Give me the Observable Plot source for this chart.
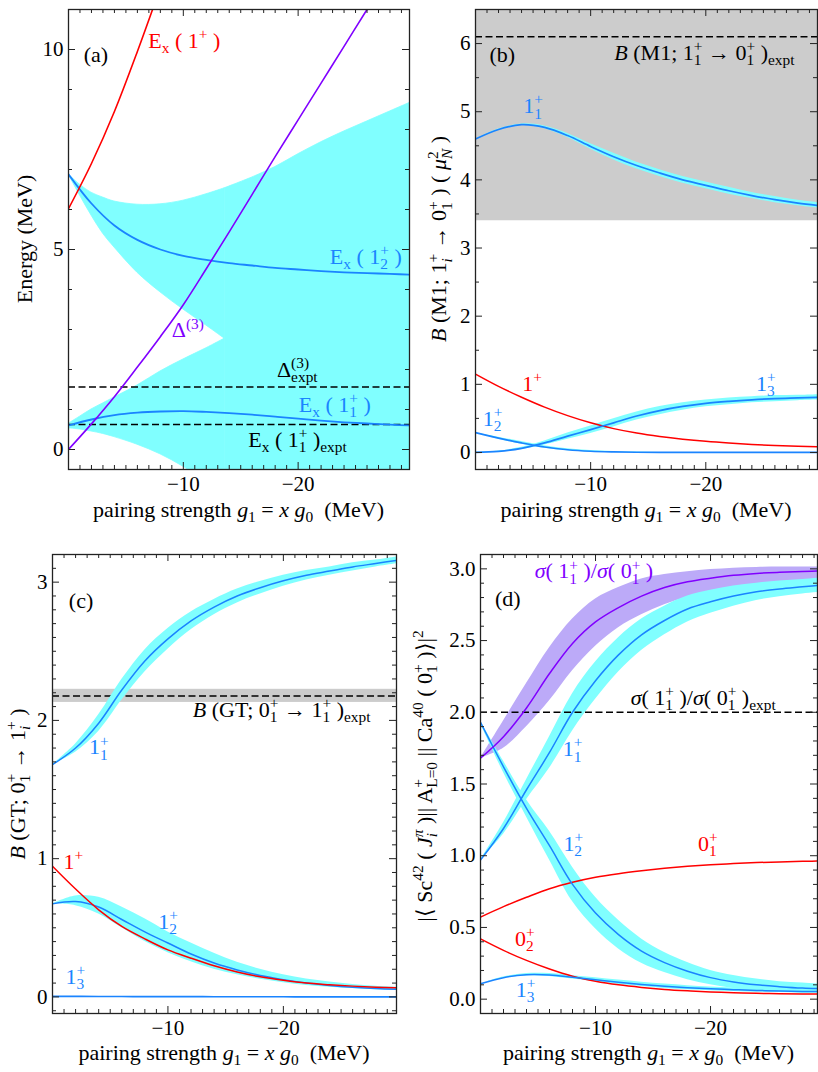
<!DOCTYPE html>
<html><head><meta charset="utf-8">
<script src="https://cdn.jsdelivr.net/npm/d3@7"></script>
<script src="https://cdn.jsdelivr.net/npm/@observablehq/plot@0.6"></script>
<style>
body{margin:0;background:#fff}
#wrap{position:relative;width:818px;height:1072px;overflow:hidden;background:#fff}
</style></head>
<body><div id="wrap"></div>
<script>
// ---------- data ----------
const G = [0,-2,-4,-6,-8,-10,-12,-14,-16,-18,-20,-22,-24,-26,-28,-30];
const xMajor = [-10, -20];

// panel (a)
const aRedG = [0,-2,-4,-6,-8];
const aRed = [6.02, 7.15, 8.45, 9.95, 11.55];
const aDelta = [0, 0.64, 1.32, 2.06, 2.82, 3.62, 4.52, 5.44, 6.38, 7.32, 8.24, 9.16, 10.08, 11.0, 11.92, 12.84];
const aEx2 = [6.88, 6.15, 5.6, 5.24, 5.0, 4.84, 4.74, 4.66, 4.6, 4.54, 4.5, 4.46, 4.43, 4.41, 4.39, 4.37];
const aEx1 = [0.6, 0.75, 0.86, 0.92, 0.95, 0.96, 0.94, 0.91, 0.87, 0.82, 0.77, 0.72, 0.68, 0.65, 0.62, 0.6];
const GA = [0,-1,-2,-3,-4,-6,-8,-10,-12,-13.6,-16,-18,-20,-22,-24,-26,-28,-30];
const aUpperA = [6.88, 6.62, 6.42, 6.3, 6.2, 6.12, 6.13, 6.22, 6.38, 6.53, 6.8, 7.06, 7.38, 7.68, 7.95, 8.2, 8.45, 8.7];
const aInnerA = [6.88, 6.35, 5.85, 5.4, 5.05, 4.42, 3.93, 3.5, 3.1, 2.77];
const aInnerB = [0.64, 0.82, 1.0, 1.15, 1.3, 1.6, 1.95, 2.25, 2.53, 2.77];
const aLowerB = [0.53, 0.5, 0.45, 0.39, 0.31, 0.12, -0.12, -0.43, -0.8];
const aDeltaExpt = 1.56, aEx1Expt = 0.625;
const aYTicks = [0, 5, 10];

// panel (b)
const b11 = [4.6, 4.74, 4.81, 4.77, 4.65, 4.49, 4.34, 4.21, 4.1, 4.0, 3.92, 3.84, 3.77, 3.71, 3.66, 3.62];
const b11hw = [0, 0.005, 0.01, 0.02, 0.03, 0.04, 0.05, 0.05, 0.05, 0.05, 0.05, 0.05, 0.045, 0.045, 0.04, 0.04];
const bRed = [1.15, 0.97, 0.81, 0.665, 0.54, 0.435, 0.35, 0.285, 0.235, 0.195, 0.163, 0.138, 0.118, 0.103, 0.091, 0.082];
const b12 = [0.29, 0.21, 0.14, 0.08, 0.04, 0.018, 0.008, 0.003, 0.001, 0, 0, 0, 0, 0, 0, 0];
const b12hw = [0, 0.015, 0.02, 0.02, 0.015, 0.01, 0.005, 0.002, 0, 0, 0, 0, 0, 0, 0, 0];
const b13 = [0, 0.015, 0.06, 0.14, 0.24, 0.335, 0.435, 0.535, 0.615, 0.675, 0.72, 0.75, 0.773, 0.79, 0.8, 0.81];
const b13hw = [0, 0.005, 0.015, 0.03, 0.045, 0.055, 0.06, 0.06, 0.06, 0.055, 0.05, 0.05, 0.045, 0.045, 0.04, 0.04];
const bExptBand = [3.4, 6.5], bExpt = 6.1;
const bYTicks = [0, 1, 2, 3, 4, 5, 6];

// panel (c)
const c11 = [1.68, 1.80, 1.98, 2.22, 2.43, 2.59, 2.72, 2.82, 2.9, 2.96, 3.01, 3.05, 3.08, 3.11, 3.135, 3.16];
const c11hw = [0, 0.03, 0.06, 0.075, 0.08, 0.075, 0.065, 0.055, 0.05, 0.045, 0.04, 0.035, 0.03, 0.03, 0.025, 0.025];
const cRed = [0.945, 0.78, 0.63, 0.51, 0.42, 0.34, 0.28, 0.225, 0.18, 0.145, 0.12, 0.1, 0.088, 0.078, 0.07, 0.065];
const c12 = [0.673, 0.69, 0.65, 0.56, 0.47, 0.39, 0.31, 0.245, 0.195, 0.155, 0.125, 0.1, 0.083, 0.07, 0.06, 0.054];
const c12Hi = [0.673, 0.73, 0.72, 0.65, 0.565, 0.47, 0.39, 0.315, 0.25, 0.2, 0.16, 0.13, 0.108, 0.09, 0.078, 0.07];
const c12Lo = [0.673, 0.66, 0.6, 0.5, 0.4, 0.32, 0.255, 0.2, 0.16, 0.128, 0.103, 0.083, 0.07, 0.06, 0.052, 0.046];
const c13 = [0.004, 0.004, 0.003, 0.003, 0.002, 0.002, 0.002, 0.001, 0.001, 0.001, 0.001, 0, 0, 0, 0, 0];
const cExptBand = [2.13, 2.225], cExpt = 2.176;
const cYTicks = [0, 1, 2, 3];

// panel (d)
const dSig = [1.68, 1.83, 2.03, 2.27, 2.48, 2.63, 2.73, 2.81, 2.87, 2.91, 2.935, 2.955, 2.968, 2.976, 2.982, 2.986];
const dSigHi = [1.68, 1.94, 2.2, 2.45, 2.65, 2.79, 2.87, 2.93, 2.96, 2.98, 2.995, 3.005, 3.01, 3.012, 3.013, 3.014];
const dSigLo = [1.68, 1.75, 1.9, 2.08, 2.29, 2.46, 2.59, 2.68, 2.75, 2.8, 2.84, 2.865, 2.88, 2.89, 2.9, 2.905];
const d11 = [0.97, 1.19, 1.46, 1.72, 2.0, 2.22, 2.4, 2.54, 2.64, 2.72, 2.77, 2.81, 2.84, 2.86, 2.875, 2.89];
const d11hw = [0, 0.04, 0.07, 0.11, 0.13, 0.13, 0.12, 0.11, 0.1, 0.09, 0.08, 0.07, 0.06, 0.055, 0.05, 0.05];
const d12 = [1.93, 1.62, 1.33, 1.07, 0.8, 0.6, 0.45, 0.335, 0.255, 0.195, 0.15, 0.12, 0.1, 0.087, 0.077, 0.072];
const d12hw = [0.01, 0.04, 0.06, 0.1, 0.12, 0.11, 0.1, 0.085, 0.07, 0.06, 0.05, 0.045, 0.04, 0.035, 0.035, 0.03];
const d01 = [0.572, 0.645, 0.71, 0.77, 0.815, 0.85, 0.875, 0.895, 0.912, 0.926, 0.937, 0.945, 0.952, 0.957, 0.961, 0.963];
const d02 = [0.42, 0.34, 0.27, 0.21, 0.16, 0.125, 0.1, 0.082, 0.068, 0.058, 0.05, 0.045, 0.041, 0.038, 0.036, 0.035];
const d13 = [0.107, 0.15, 0.17, 0.168, 0.152, 0.135, 0.118, 0.103, 0.09, 0.08, 0.072, 0.066, 0.061, 0.057, 0.054, 0.052];
const d13hw = [0, 0.005, 0.008, 0.01, 0.012, 0.014, 0.015, 0.015, 0.015, 0.014, 0.013, 0.012, 0.012, 0.011, 0.01, 0.01];
const dExpt = 2.0;
const dYTicks = [0, 0.5, 1, 1.5, 2, 2.5, 3];

// ---------- styles ----------
const RED = "#ff0000", BLUE = "#1a84ff", CYAN = "#80ffff", PURPLE = "#8000ff",
      LAV = "#bcaaf8", GRAY = "#cccccc", FRAME = "#222", BLACK = "#000";
const FONT = "'Liberation Serif', 'Times New Roman', serif";
const XTITLE = "pairing strength @{g}_{1} = @{x} @{g}_{0}  (MeV)";
const CURVE = "catmull-rom";

const rows = (gs, vs) => gs.map((g, i) => ({g, v: vs[i]}));
const band = (gs, mid, hw) => gs.map((g, i) => ({g, lo: mid[i] - hw[i], hi: mid[i] + hw[i]}));
const band2 = (gs, lo, hi) => gs.map((g, i) => ({g, lo: lo[i], hi: hi[i]}));
const lineM = (data, stroke, w = 1.5) => Plot.line(data, {x: "g", y: "v", stroke, strokeWidth: w, curve: CURVE, clip: true});
const areaM = (data, fill, sw = 0) => Plot.areaY(data, {x: "g", y1: "lo", y2: "hi", fill, stroke: sw ? fill : null, strokeWidth: sw, curve: CURVE, clip: true});
const dashM = (v) => Plot.ruleY([v], {stroke: BLACK, strokeWidth: 1.5, strokeDasharray: "7,3.5"});
const rectM = (x2, yb) => Plot.rect([{x1: 0, x2, y1: yb[0], y2: yb[1]}], {x1: "x1", x2: "x2", y1: "y1", y2: "y2", fill: GRAY});

// ---------- rich text ----------
const NS = "http://www.w3.org/2000/svg";
function parseRich(str) {
  let i = 0;
  function group() { i++; const n = seq("}"); i++; return n; }
  function seq(end) {
    const nodes = []; let buf = "";
    const flush = () => { if (buf) { nodes.push({type: "t", text: buf}); buf = ""; } };
    while (i < str.length && str[i] !== end) {
      const c = str[i];
      if ((c === "^" || c === "_" || c === "@") && str[i + 1] === "{") {
        flush(); i++; const g = group();
        nodes.push({type: c === "^" ? "sup" : c === "_" ? "sub" : "it", children: g});
      } else if (c === "%" && str[i + 1] === "{") {
        flush(); i++; const a = group(); const b = group();
        nodes.push({type: "stack", sup: a, sub: b});
      } else { buf += c; i++; }
    }
    flush(); return nodes;
  }
  return seq(undefined);
}
function richText(svg, x, y, str, {size = 22, fill = BLACK, anchor = "start", rotate = false} = {}) {
  const t = document.createElementNS(NS, "text");
  t.setAttribute("transform", `translate(${x},${y})` + (rotate ? " rotate(-90)" : ""));
  t.setAttribute("text-anchor", anchor);
  t.setAttribute("fill", fill);
  t.setAttribute("font-family", FONT);
  t.setAttribute("font-size", size);
  t.style.whiteSpace = "pre";
  svg.appendChild(t);
  let cur = 0, pendingDx = 0, collector = null;
  function emit(text, st) {
    const ts = document.createElementNS(NS, "tspan");
    ts.textContent = text;
    ts.setAttribute("font-size", st.size);
    if (st.it) ts.setAttribute("font-style", "italic");
    const dy = st.off - cur; if (Math.abs(dy) > 1e-6) ts.setAttribute("dy", dy.toFixed(2));
    cur = st.off;
    if (pendingDx) { ts.setAttribute("dx", pendingDx.toFixed(2)); pendingDx = 0; }
    t.appendChild(ts);
    if (collector) collector.push(ts);
  }
  const supSt = st => ({it: st.it, off: st.off - st.size * 0.4, size: st.size * 0.7});
  const subSt = st => ({it: st.it, off: st.off + st.size * 0.24, size: st.size * 0.7});
  function measure(fn) {
    const prev = collector; collector = []; fn();
    const w = d3.sum(collector, s => s.getComputedTextLength());
    const list = collector; collector = prev; if (prev) prev.push(...list);
    return w;
  }
  function walk(nodes, st) {
    for (const n of nodes) {
      if (n.type === "t") emit(n.text, st);
      else if (n.type === "it") walk(n.children, {...st, it: true});
      else if (n.type === "sup") walk(n.children, supSt(st));
      else if (n.type === "sub") walk(n.children, subSt(st));
      else if (n.type === "stack") {
        const w1 = measure(() => walk(n.sup, supSt(st)));
        pendingDx -= w1;
        const w2 = measure(() => walk(n.sub, subSt(st)));
        pendingDx += Math.max(0, w1 - w2);
      }
    }
  }
  walk(parseRich(str), {it: false, off: 0, size});
  return t;
}

// ---------- panel builder ----------
const wrap = document.getElementById("wrap");
function panel(p) {
  const [mt, mr, mb, ml] = p.margin;
  const fw = p.width - ml - mr, fh = p.height - mt - mb;
  const xMinor = d3.range(-1, p.xDomain[1], -1).filter(v => !xMajor.includes(v));
  const yMinor = d3.range(Math.ceil(p.yDomain[0] / p.yStep) , Math.floor(p.yDomain[1] / p.yStep) + 1)
    .map(k => +(k * p.yStep).toFixed(4))
    .filter(v => v > p.yDomain[0] + 1e-6 && v < p.yDomain[1] - 1e-6 && !p.yTicks.some(t => Math.abs(t - v) < 1e-6));
  const o = {stroke: FRAME, strokeWidth: 1};
  const ticks = [
    Plot.tickX(xMajor, {x: d => d, insetTop: fh - 7, ...o}),
    Plot.tickX(xMajor, {x: d => d, insetBottom: fh - 7, ...o}),
    Plot.tickX(xMinor, {x: d => d, insetTop: fh - 4, ...o}),
    Plot.tickX(xMinor, {x: d => d, insetBottom: fh - 4, ...o}),
    Plot.tickY(p.yTicks, {y: d => d, insetRight: fw - 7, ...o}),
    Plot.tickY(p.yTicks, {y: d => d, insetLeft: fw - 7, ...o}),
    Plot.tickY(yMinor, {y: d => d, insetRight: fw - 4, ...o}),
    Plot.tickY(yMinor, {y: d => d, insetLeft: fw - 4, ...o}),
    Plot.frame({stroke: FRAME, strokeWidth: 1.3})
  ];
  const svg = Plot.plot({
    width: p.width, height: p.height,
    marginTop: mt, marginRight: mr, marginBottom: mb, marginLeft: ml,
    style: {fontFamily: FONT, fontSize: "21px", background: "transparent", overflow: "visible", color: "#000"},
    x: {domain: p.xDomain, ticks: xMajor, tickSize: 0, tickPadding: 6.5, label: null,
        tickFormat: d => d < 0 ? "\u2212" + (-d) : String(d)},
    y: {domain: p.yDomain, ticks: p.yTicks, tickSize: 0, tickPadding: 5, label: null, tickFormat: p.yFmt},
    marks: [...p.marks, ...ticks]
  });
  svg.style.position = "absolute";
  svg.style.left = p.left + "px";
  svg.style.top = p.top + "px";
  svg.style.maxWidth = "none";
  wrap.appendChild(svg);
  const sxo = svg.scale("x"), syo = svg.scale("y");
  const sx = sxo.apply ? v => sxo.apply(v) : d3.scaleLinear(sxo.domain, sxo.range);
  const sy = syo.apply ? v => syo.apply(v) : d3.scaleLinear(syo.domain, syo.range);
  for (const l of p.labels) richText(svg, sx(l.g), sy(l.v), l.t, {fill: l.c || BLACK, size: l.s || 22});
  richText(svg, p.ytitle[1], p.ytitle[2], p.ytitle[0], {anchor: "middle", rotate: true, size: 22});
  richText(svg, ml + fw / 2, p.xtitleY, XTITLE, {anchor: "middle", size: 22});
}

// ---------- panel (a) ----------
const aLowRows = GA.slice(0, 10).map((g, i) => ({g, lo: aLowerB[i] ?? -1, hi: aInnerB[i]}));
const aUpRows = GA.slice(0, 10).map((g, i) => ({g, lo: aInnerA[i], hi: aUpperA[i]}));
const aRightRows = GA.slice(9).map((g, j) => ({g, lo: aLowerB[9 + j] ?? -1, hi: aUpperA[9 + j]}));
panel({
  left: 0, top: 0, width: 410, height: 536, margin: [9, 1, 67, 68],
  xDomain: [0, -29.7], yDomain: [-0.5, 11], yTicks: aYTicks, yStep: 1, yFmt: d => String(d),
  marks: [
    areaM(aLowRows, CYAN, 0.8), areaM(aUpRows, CYAN, 0.8), areaM(aRightRows, CYAN, 0.8),
    dashM(aDeltaExpt), dashM(aEx1Expt),
    lineM(rows(G, aEx2), BLUE, 1.8), lineM(rows(G, aEx1), BLUE, 1.8),
    lineM(rows(aRedG, aRed), RED, 1.6), lineM(rows(G, aDelta), PURPLE, 1.6)
  ],
  labels: [
    {g: -1.37, v: 9.67, t: "(a)"},
    {g: -7.0, v: 10.02, t: "E_{x} ( 1^{+} )", c: RED},
    {g: -22.8, v: 4.63, t: "E_{x} ( 1%{+}{2} )", c: BLUE},
    {g: -9.04, v: 2.79, t: "\u0394^{(3)}", c: PURPLE},
    {g: -18.2, v: 1.8, t: "\u0394%{(3)}{expt}"},
    {g: -20.1, v: 0.92, t: "E_{x} ( 1%{+}{1} )", c: BLUE},
    {g: -15.7, v: 0.05, t: "E_{x} ( 1%{+}{1} )_{expt}"}
  ],
  ytitle: ["Energy (MeV)", 31.5, 239], xtitleY: 517
});

// ---------- panel (b) ----------
panel({
  left: 409, top: 0, width: 409, height: 536, margin: [9, 1, 67, 66],
  xDomain: [0, -29.7], yDomain: [-0.25, 6.5], yTicks: bYTicks, yStep: 0.5, yFmt: d => String(d),
  marks: [
    rectM(-29.7, bExptBand), dashM(bExpt),
    areaM(band(G, b11, b11hw), CYAN), areaM(band(G, b12, b12hw), CYAN), areaM(band(G, b13, b13hw), CYAN),
    lineM(rows(G, bRed), RED), lineM(rows(G, b11), BLUE, 1.7), lineM(rows(G, b12), BLUE, 1.7), lineM(rows(G, b13), BLUE, 1.7)
  ],
  labels: [
    {g: -1.26, v: 5.72, t: "(b)"},
    {g: -12.1, v: 5.75, t: "@{B} (M1; 1%{+}{1} \u2192 0%{+}{1} )_{expt}"},
    {g: -4.2, v: 4.97, t: "1%{+}{1}", c: BLUE},
    {g: -4.1, v: 0.9, t: "1^{+}", c: RED},
    {g: -0.67, v: 0.38, t: "1%{+}{2}", c: BLUE},
    {g: -24.4, v: 0.9, t: "1%{+}{3}", c: BLUE}
  ],
  ytitle: ["@{B} (M1; 1%{+}{@{i}} \u2192 0%{+}{1} ) ( @{\u03bc}%{2}{@{N}} )", 37.3, 239], xtitleY: 517
});

// ---------- panel (c) ----------
panel({
  left: 0, top: 536, width: 409, height: 536, margin: [18, 13, 59, 52],
  xDomain: [0, -29.8], yDomain: [-0.12, 3.2], yTicks: cYTicks, yStep: 0.1, yFmt: d => String(d),
  marks: [
    rectM(-29.8, cExptBand), dashM(cExpt),
    areaM(band(G, c11, c11hw), CYAN), areaM(band2(G, c12Lo, c12Hi), CYAN),
    lineM(rows(G, c11), BLUE), lineM(rows(G, c12), BLUE), lineM(rows(G, cRed), RED), lineM(rows(G, c13), BLUE, 1.7)
  ],
  labels: [
    {g: -1.46, v: 2.81, t: "(c)"},
    {g: -12.2, v: 2.02, t: "@{B} (GT; 0%{+}{1} \u2192 1%{+}{1} )_{expt}"},
    {g: -3.2, v: 1.75, t: "1%{+}{1}", c: BLUE},
    {g: -1.0, v: 0.92, t: "1^{+}", c: RED},
    {g: -9.2, v: 0.49, t: "1%{+}{2}", c: BLUE},
    {g: -1.17, v: 0.09, t: "1%{+}{3}", c: BLUE}
  ],
  ytitle: ["@{B} (GT; 0%{+}{1} \u2192 1%{+}{@{i}} )", 25, 248], xtitleY: 524
});

// ---------- panel (d) ----------
panel({
  left: 409, top: 536, width: 409, height: 536, margin: [18, 1, 59, 71],
  xDomain: [0, -29.3], yDomain: [-0.1, 3.1], yTicks: dYTicks, yStep: 0.1, yFmt: d3.format(".1f"),
  marks: [
    areaM(band2(G, dSigLo, dSigHi), LAV),
    areaM(band(G, d11, d11hw), CYAN), areaM(band(G, d12, d12hw), CYAN), areaM(band(G, d13, d13hw), CYAN),
    dashM(dExpt),
    lineM(rows(G, d01), RED), lineM(rows(G, d02), RED),
    lineM(rows(G, d11), BLUE), lineM(rows(G, d12), BLUE), lineM(rows(G, d13), BLUE),
    lineM(rows(G, dSig), PURPLE)
  ],
  labels: [
    {g: -1.3, v: 2.74, t: "(d)"},
    {g: -4.75, v: 2.93, t: "@{\u03c3}( 1%{+}{1} )/@{\u03c3}( 0%{+}{1} )", c: PURPLE},
    {g: -13.1, v: 2.05, t: "@{\u03c3}( 1%{+}{1} )/@{\u03c3}( 0%{+}{1} )_{expt}"},
    {g: -7.2, v: 1.69, t: "1%{+}{1}", c: BLUE},
    {g: -7.25, v: 1.03, t: "1%{+}{2}", c: BLUE},
    {g: -18.95, v: 1.03, t: "0%{+}{1}", c: RED},
    {g: -3.04, v: 0.37, t: "0%{+}{2}", c: RED},
    {g: -3.1, v: 0.012, t: "1%{+}{3}", c: BLUE}
  ],
  ytitle: ["|\u27e8 Sc^{42} ( @{J}%{@{\u03c0}}{@{i}} )|| A%{+}{L=0} || Ca^{40} ( 0%{+}{1} )\u27e9|^{2}", 22.7, 240], xtitleY: 524
});
</script></body></html>
